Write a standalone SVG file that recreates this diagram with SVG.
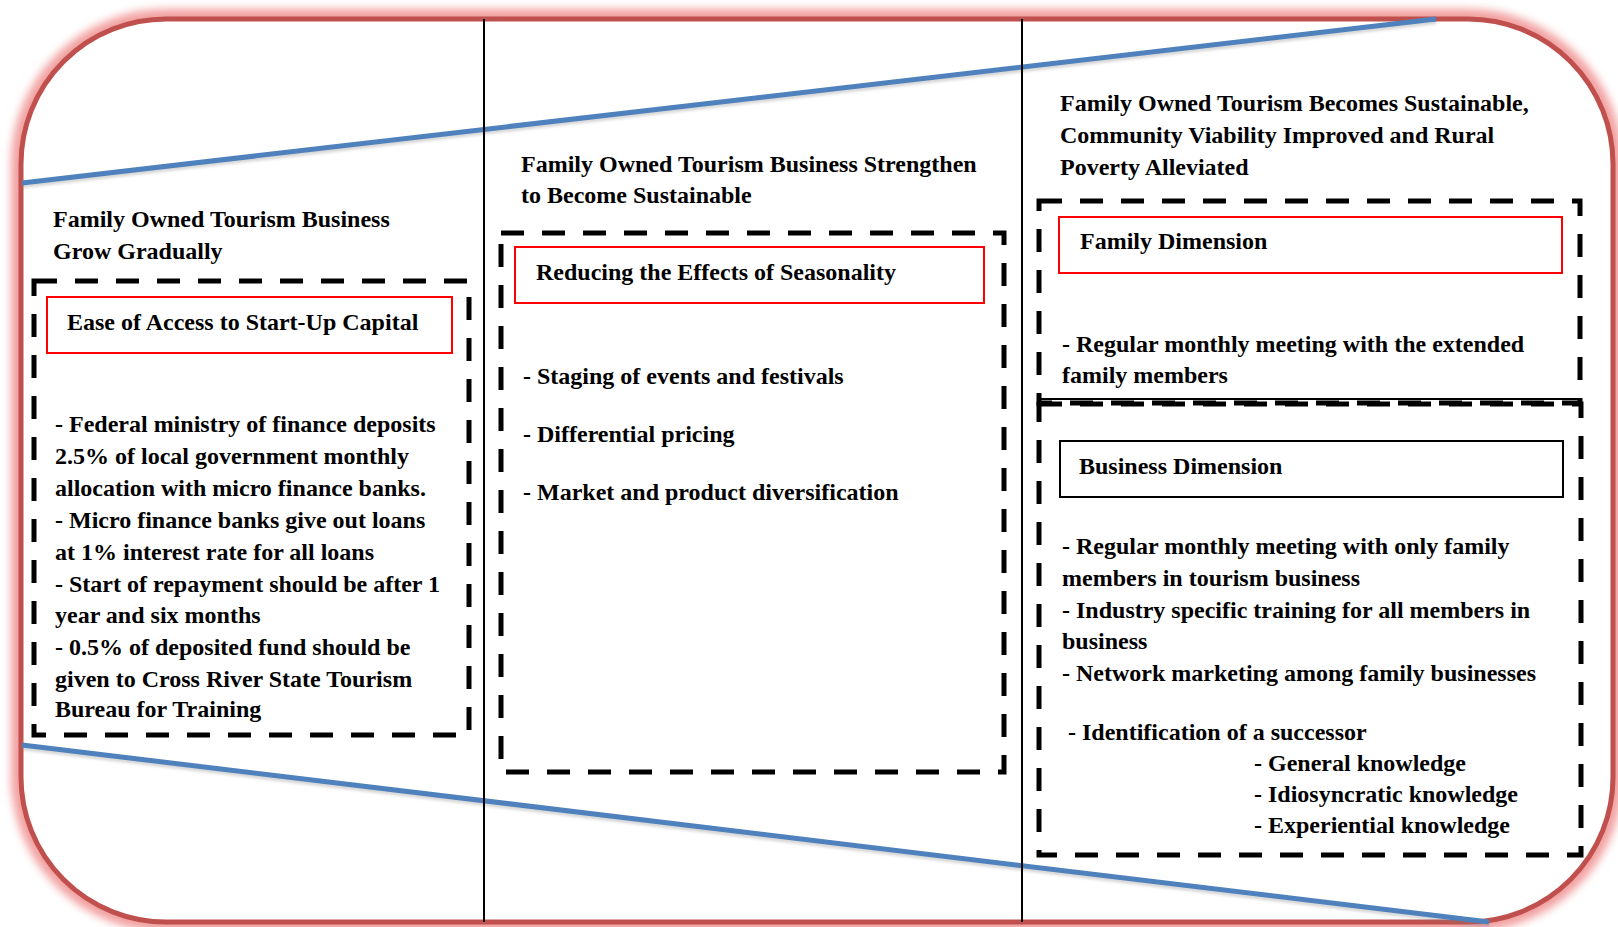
<svg xmlns="http://www.w3.org/2000/svg" width="1618" height="927" viewBox="0 0 1618 927">
  <defs>
    <filter id="glow" x="-5%" y="-5%" width="110%" height="110%">
      <feGaussianBlur stdDeviation="4"/>
    </filter>
    <filter id="soft" x="-5%" y="-50%" width="110%" height="200%">
      <feGaussianBlur stdDeviation="1.5"/>
    </filter>
  </defs>
  <style>
    text { font-family: "Liberation Serif", "Times New Roman", serif; font-weight: bold; font-size: 24px; fill: #000; }
    .dash { fill: none; stroke: #000; stroke-width: 5; stroke-dasharray: 23 18; }
    .redbox { fill: #fff; stroke: #FF0000; stroke-width: 2; }
    .blackbox { fill: #fff; stroke: #000; stroke-width: 2; }
    .blue { stroke: #4F81BD; stroke-width: 5; fill: none; }
    .bshadow { stroke: #7f7f7f; stroke-width: 4; opacity: 0.35; fill: none; }
    .vline { stroke: #000; stroke-width: 2; }
  </style>
  <rect width="1618" height="927" fill="#fff"/>

  <g id="frame">
    <rect x="21" y="19" width="1592" height="903" rx="145" ry="145" fill="none" stroke="#F08F8F" stroke-width="20" opacity="0.85" filter="url(#glow)"/>
    <rect x="21" y="19" width="1592" height="903" rx="145" ry="145" fill="#fff" stroke="#C0504D" stroke-width="5"/>
  </g>

  <g id="lines">
    <line class="bshadow" x1="22" y1="186" x2="1436" y2="22" filter="url(#soft)"/>
    <line class="bshadow" x1="22" y1="748" x2="1489" y2="925" filter="url(#soft)"/>
    <line class="blue" x1="22" y1="183" x2="1436" y2="19"/>
    <line class="blue" x1="22" y1="745" x2="1489" y2="922"/>
    <line class="vline" x1="484" y1="19" x2="484" y2="922"/>
    <line class="vline" x1="1022" y1="19" x2="1022" y2="922"/>
  </g>

  <g id="stage1">
    <text x="53" y="227">Family Owned Tourism Business</text>
    <text x="53" y="259">Grow Gradually</text>
    <rect class="dash" x="34" y="281" width="435" height="454"/>
    <g id="stage1-header">
      <rect class="redbox" x="47" y="297" width="405" height="56"/>
      <text x="67" y="330">Ease of Access to Start-Up Capital</text>
    </g>
    <text x="55" y="432">- Federal ministry of finance deposits</text>
    <text x="55" y="464">2.5% of local government monthly</text>
    <text x="55" y="496">allocation with micro finance banks.</text>
    <text x="55" y="528">- Micro finance banks give out loans</text>
    <text x="55" y="560">at 1% interest rate for all loans</text>
    <text x="55" y="592">- Start of repayment should be after 1</text>
    <text x="55" y="623">year and six months</text>
    <text x="55" y="655">- 0.5% of deposited fund should be</text>
    <text x="55" y="687">given to Cross River State Tourism</text>
    <text x="55" y="717">Bureau for Training</text>
  </g>

  <g id="stage2">
    <text x="521" y="172">Family Owned Tourism Business Strengthen</text>
    <text x="521" y="203">to Become Sustainable</text>
    <rect class="dash" x="501" y="233" width="503" height="539"/>
    <g id="stage2-header">
      <rect class="redbox" x="515" y="247" width="469" height="56"/>
      <text x="536" y="280">Reducing the Effects of Seasonality</text>
    </g>
    <text x="523" y="384">- Staging of events and festivals</text>
    <text x="523" y="442">- Differential pricing</text>
    <text x="523" y="500">- Market and product diversification</text>
  </g>

  <g id="stage3">
    <text x="1060" y="111">Family Owned Tourism Becomes Sustainable,</text>
    <text x="1060" y="143">Community Viability Improved and Rural</text>
    <text x="1060" y="175">Poverty Alleviated</text>
  </g>

  <g id="family-dimension">
    <rect class="dash" x="1039" y="201" width="541" height="202"/>
    <line x1="1039" y1="399" x2="1580" y2="399" stroke="#000" stroke-width="2"/>
    <rect class="redbox" x="1059" y="217" width="503" height="56"/>
    <text x="1080" y="249">Family Dimension</text>
    <text x="1062" y="352">- Regular monthly meeting with the extended</text>
    <text x="1062" y="383">family members</text>
  </g>

  <g id="business-dimension">
    <rect class="dash" x="1039" y="404" width="542" height="451"/>
    <rect class="blackbox" x="1060" y="441" width="503" height="56"/>
    <text x="1079" y="474">Business Dimension</text>
    <text x="1062" y="554">- Regular monthly meeting with only family</text>
    <text x="1062" y="586">members in tourism business</text>
    <text x="1062" y="618">- Industry specific training for all members in</text>
    <text x="1062" y="649">business</text>
    <text x="1062" y="681">- Network marketing among family businesses</text>
    <text x="1068" y="740">- Identification of a successor</text>
    <text x="1254" y="771">- General knowledge</text>
    <text x="1254" y="802">- Idiosyncratic knowledge</text>
    <text x="1254" y="833">- Experiential knowledge</text>
  </g>
</svg>
